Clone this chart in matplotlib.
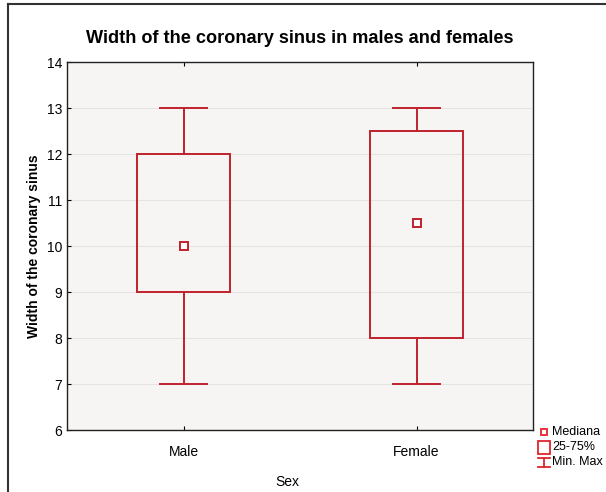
import matplotlib
matplotlib.use("Agg")
import matplotlib.pyplot as plt
from matplotlib.lines import Line2D

plt.rcParams['font.family'] = ['Liberation Sans', 'DejaVu Sans']

categories = ["Male", "Female"]
minimum = [7, 7]
q1 = [9, 8]
median = [10, 10.5]
q3 = [12, 12.5]
maximum = [13, 13]
yticks = [6, 7, 8, 9, 10, 11, 12, 13, 14]

red = "#c0222c"
fig = plt.figure(figsize=(6.06, 4.92), dpi=100)
ax = fig.add_axes([67/606, 62/492, 466/606, 368/492])
ax.set_facecolor("#f6f5f4")

box_w = 0.4
cap_w = 0.2
for i in range(len(categories)):
    ax.add_patch(plt.Rectangle((i - box_w/2, q1[i]), box_w, q3[i] - q1[i],
                               fill=False, edgecolor=red, lw=1.4, zorder=3))
    ax.plot([i, i], [q3[i], maximum[i]], color=red, lw=1.4, zorder=3)
    ax.plot([i, i], [minimum[i], q1[i]], color=red, lw=1.4, zorder=3)
    ax.plot([i - cap_w/2, i + cap_w/2], [maximum[i]]*2, color=red, lw=1.4, zorder=3)
    ax.plot([i - cap_w/2, i + cap_w/2], [minimum[i]]*2, color=red, lw=1.4, zorder=3)
    ax.plot(i, median[i], marker='s', ms=5.5, mfc='white', mec=red, mew=1.4, zorder=4)

ax.set_xlim(-0.5, 1.5)
ax.set_ylim(6, 14)
ax.set_yticks(yticks)
ax.set_xticks(range(len(categories)))
ax.set_xticklabels(categories)
ax.tick_params(axis='both', direction='in', length=3, labelsize=10, top=True)
ax.tick_params(axis='x', pad=11)
ax.grid(axis='y', color='#e6e3e3', lw=0.8)
ax.set_axisbelow(True)
for s in ax.spines.values():
    s.set_color('#222222')
    s.set_linewidth(1.0)

ax.set_ylabel("Width of the coronary sinus", fontsize=10, fontweight='bold', labelpad=4)
fig.text(287/606, 1 - 482/492, "Sex", fontsize=10, ha='center', va='center')
ax.set_title("Width of the coronary sinus in males and females", fontsize=13.1,
             fontweight='bold', pad=14)

# figure frame
fig.add_artist(Line2D([8/606, 8/606], [0, 1 - 4/492], transform=fig.transFigure, color='#333333', lw=1.5))
fig.add_artist(Line2D([8/606, 1], [1 - 4/492, 1 - 4/492], transform=fig.transFigure, color='#333333', lw=1.5))

# custom legend
lr = "#e0242c"
fx = lambda x: x/606
fy = lambda y: 1 - y/492
fig.add_artist(Line2D([fx(544)], [fy(432)], marker='s', ms=5, mfc='white', mec=lr, mew=1.3,
                      transform=fig.transFigure))
fig.add_artist(plt.Rectangle((fx(538), fy(454)), 12/606, 13/492, fill=False, edgecolor=lr,
                             lw=1.3, transform=fig.transFigure))
fig.add_artist(Line2D([fx(544), fx(544)], [fy(458), fy(467)], color=lr, lw=1.3, transform=fig.transFigure))
fig.add_artist(Line2D([fx(538), fx(550)], [fy(458), fy(458)], color=lr, lw=1.3, transform=fig.transFigure))
fig.add_artist(Line2D([fx(538), fx(550)], [fy(467), fy(467)], color=lr, lw=1.3, transform=fig.transFigure))
for y, t in [(432, "Mediana"), (447, "25-75%"), (462, "Min. Max")]:
    fig.text(fx(552), fy(y), t, fontsize=9, va='center', ha='left')

fig.savefig("out.png", dpi=100)
